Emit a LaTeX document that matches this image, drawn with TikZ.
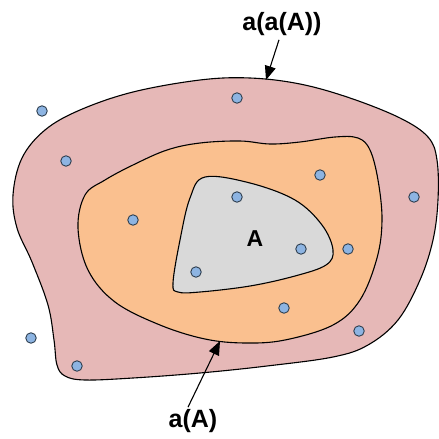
\documentclass[tikz,border=0pt]{standalone}
\usepackage{fontspec}
\setmainfont{Liberation Sans}
\usetikzlibrary{arrows.meta}
\definecolor{outerpink}{HTML}{E6B8B7}
\definecolor{midorange}{HTML}{FAC08F}
\definecolor{innergray}{HTML}{D9D9D9}
\definecolor{dotblue}{HTML}{8DB4E2}
\definecolor{dotline}{HTML}{2F3F50}
\tikzset{
  blob/.style={draw=black, line width=1.1pt},
  pt/.style={circle, fill=dotblue, draw=dotline, line width=0.9pt, minimum size=10.5pt, inner sep=0pt},
  lbl/.style={font=\bfseries\fontsize{25}{29}\selectfont, inner sep=0pt},
  ptr/.style={draw=black, line width=1.1pt, -{Triangle[length=14pt,width=11pt]}}
}
\begin{document}
\begin{tikzpicture}[x=1pt,y=-1pt]
\useasboundingbox (0,0) rectangle (439,439);
% outer blob
\draw[blob, fill=outerpink] plot[smooth cycle, tension=0.6] coordinates {
 (13,195) (22,158) (45,130) (80,110) (133,92) (200,80) (250,78) (300,84) (350,98)
 (400,118) (428,137) (437,160) (438,200) (433,240) (420,280) (398,320) (368,345)
 (333,357) (267,366) (200,373) (133,378) (85,380) (65,376) (57,365) (54,340)
 (48,305) (32,262) (17,228)};
% middle blob
\draw[blob, fill=midorange] plot[smooth cycle, tension=0.6] coordinates {
 (78,228) (85,195) (105,180) (133,165) (167,150) (200,143) (240,141) (270,144)
 (300,142) (335,137) (358,138) (370,150) (378,180) (382,220) (377,258) (360,300)
 (333,325) (285,340) (245,343) (205,339) (160,325) (115,302) (88,270)};
% inner blob
\draw[blob, fill=innergray] plot[smooth cycle, tension=0.6] coordinates {
 (205,177) (250,183) (295,200) (322,225) (333,250) (326,265) (295,276) (250,286)
 (200,292) (178,292) (173,283) (180,240) (190,198)};
% points
\node[pt] (d1) at (42,111) {};
\node[pt] (d2) at (66,161) {};
\node[pt] (d3) at (237,98) {};
\node[pt] (d4) at (320,175) {};
\node[pt] (d5) at (414,197) {};
\node[pt] (d6) at (133,220) {};
\node[pt] (d7) at (237,197) {};
\node[pt] (d8) at (301,249) {};
\node[pt] (d9) at (348,249) {};
\node[pt] (d10) at (196,272) {};
\node[pt] (d11) at (284,308) {};
\node[pt] (d12) at (359,331) {};
\node[pt] (d13) at (31,338) {};
\node[pt] (d14) at (77,366) {};
% labels
\node[lbl, font=\bfseries\fontsize{23}{27}\selectfont] (A) at (255,239) {A};
\node[lbl] (aaA) at (282,24) {a(a(A))};
\node[lbl] (aA) at (193,421) {a(A)};
\coordinate (tipOuter) at (266,80);
\coordinate (tipMid) at (220,341);
\draw[ptr] (aaA.south) ++(-3,4) coordinate (s1) (s1) -- (tipOuter);
\draw[ptr] (aA.north) ++(-5,-2) coordinate (s2) (s2) -- (tipMid);
\end{tikzpicture}
\end{document}
